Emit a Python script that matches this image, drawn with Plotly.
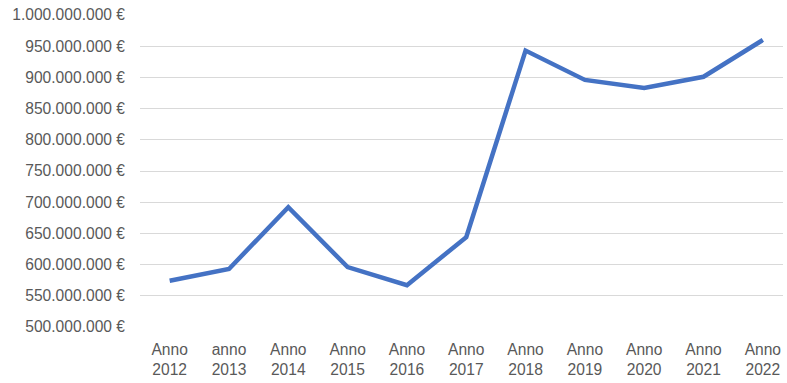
import plotly.graph_objects as go

categories = ["Anno<br>2012", "anno<br>2013", "Anno<br>2014", "Anno<br>2015", "Anno<br>2016",
              "Anno<br>2017", "Anno<br>2018", "Anno<br>2019", "Anno<br>2020", "Anno<br>2021", "Anno<br>2022"]
values = [574e6, 593e6, 692e6, 596e6, 567e6, 644e6, 943e6, 896e6, 883e6, 901e6, 960e6]
y_ticks = [500e6, 550e6, 600e6, 650e6, 700e6, 750e6, 800e6, 850e6, 900e6, 950e6, 1000e6]
y_tick_labels = ["500.000.000 €", "550.000.000 €", "600.000.000 €", "650.000.000 €", "700.000.000 €",
                 "750.000.000 €", "800.000.000 €", "850.000.000 €", "900.000.000 €", "950.000.000 €",
                 "1.000.000.000 €"]

fig = go.Figure(go.Scatter(
    x=list(range(len(categories))), y=values, mode="lines",
    line=dict(color="#4472C4", width=4.5),
    hoverinfo="skip",
))

fig.update_layout(
    width=787, height=383,
    margin=dict(l=140, r=4, t=15, b=56),
    paper_bgcolor="white", plot_bgcolor="white",
    showlegend=False,
    font=dict(family="Liberation Sans, Arial, sans-serif", size=15.6, color="#595959"),
)
fig.update_xaxes(
    range=[-0.5, 10.34], automargin=False,
    tickvals=list(range(len(categories))), ticktext=categories,
    showgrid=False, zeroline=False, showline=False,
    ticks="", ticklabelstandoff=11,
    tickfont=dict(size=15.6, color="#595959"),
)
fig.update_yaxes(
    range=[500e6, 1000e6], automargin=False,
    tickvals=y_ticks, ticktext=y_tick_labels,
    showgrid=True, gridcolor="#d9d9d9", gridwidth=1.2,
    zeroline=False, showline=False, ticks="",
    ticklabelstandoff=14,
    tickfont=dict(size=15.6, color="#595959"),
)

fig.write_html("out.html", config={"displayModeBar": False},
               post_script="document.body.style.margin='0';")
